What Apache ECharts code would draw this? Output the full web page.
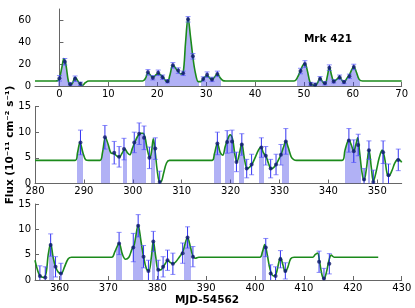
<!DOCTYPE html>
<html><head><meta charset="utf-8">
<script src="https://cdn.jsdelivr.net/npm/echarts@6/dist/echarts.min.js"></script>
<style>html,body{margin:0;padding:0;background:#fff}#c{width:415px;height:308px}</style>
</head><body><div id="c"></div>
<script>
// ---- Panel 1 (MJD-54562: -5..70) ----
var p1X = [0.0,1.1,2.2,3.2,4.3,18.1,19.1,20.2,21.1,22.1,23.2,24.3,25.3,26.3,27.3,29.4,30.2,31.2,32.3,49.3,50.2,51.4,52.3,53.3,54.3,55.2,56.1,57.3,58.2,59.3,60.2];
var p1Y = [7,22,1.5,6.6,2,12.4,7.5,12,8,4.3,18.8,14,11.5,60.6,27,6.4,10.3,6,11,13.6,20,1.8,1.2,6.6,2.5,16.7,4.2,8,3.6,8.8,17.3];
var p1E = [2.5,3,1.5,2.5,1.5,2.5,2,2.5,2,1.5,2.5,2.5,2,2.5,2.5,2,2.5,2,2.5,2.5,3,1.5,1.5,2,1.5,2.5,1.5,2,1.5,2,2.5];
var p1CurveX = [-5,-0.8,-0.3,0,0.5,0.9,1.3,1.8,2.2,2.7,3.2,3.7,4.3,4.7,5.3,6,17,17.6,18.1,18.6,19.1,19.7,20.2,20.7,21.2,21.7,22.1,22.6,23.2,23.8,24.3,24.8,25.3,25.8,26.3,26.8,27.3,27.8,28.4,28.9,29.4,29.8,30.2,30.7,31.2,31.7,32.3,32.8,33.4,34,48,48.7,49.3,49.8,50.2,50.7,51.2,51.6,52.3,52.8,53.3,53.8,54.3,54.8,55.2,55.7,56.1,56.7,57.3,57.8,58.2,58.8,59.3,59.8,60.2,60.7,61.3,62,70];
var p1CurveY = [4.5,4.5,5,7,17,25,20,5,1,3,8,5,1,0.5,3,4.5,4.5,7,12,10,8,10,11.5,10,8,5,3.5,10,19,16,13,11,12,40,62,45,26,12,4,4,6.5,8.5,9.5,7.5,6,8,11,8,5,4.5,4.5,8,14,19,20.5,14,4,1,0.5,3,7,4,2,9,17,9,4.5,6,8,5,3.5,7,10,15,17.5,13,6,4.5,4.5];
var p1Shade = [[-0.3,4.9],[17.4,28.6],[28.9,33.1],[48.5,61.5]];
var p1XTicks = [0,10,20,30,40,50,60,70];
var p1YTicks = [0,20,40,60];

// ---- Panel 2 (280..355) ----
var p2X = [289.3,294.3,296.2,297.2,298.2,300.3,301.3,302.3,303.4,304.6,305.5,317.3,319.3,320.3,321.2,322.3,323.3,324.3,326.3,327.2,328.2,329.3,330.3,331.3,344.2,345.2,346.1,347.3,348.3,349.2,351.2,352.3,354.3];
var p2Y = [8.0,9.0,6.0,5.2,6.7,8.0,9.7,8.9,5.0,6.8,0.3,7.8,8.1,8.2,4.2,7.6,2.9,3.7,7.0,5.4,2.9,3.7,5.6,8.2,8.4,6.3,7.5,0.8,6.5,0.3,6.1,1.6,4.6];
var p2E = [2.4,2.3,2.2,2.0,2.1,2.0,2.1,2.3,2.1,2.1,2.1,2.2,2.2,2.2,1.9,2.1,1.8,2.0,1.9,1.8,1.8,2.0,2.0,2.5,2.3,2.2,2.1,2.1,1.8,2.3,2.2,2.2,2.1];
var p2CurveX = [280,288.2,288.7,289.2,289.8,290.4,291,293.3,293.8,294.4,295,295.5,296.2,296.8,297.3,297.8,298.4,298.9,299.4,299.9,300.4,301,301.6,302.1,302.5,303,303.5,303.8,304.2,304.6,305,305.5,305.9,306.3,306.9,307.5,316.2,316.7,317.3,317.9,318.4,318.9,319.4,319.9,320.4,320.9,321.3,321.8,322.3,322.8,323.4,323.9,324.4,325,325.7,326.2,326.7,327.3,327.8,328.3,328.8,329.3,329.8,330.3,330.8,331.3,331.8,332.4,333,333.5,342.8,343.4,344.2,344.7,345.2,345.6,346,346.4,346.9,347.3,347.8,348.3,348.8,349.2,349.7,350.4,351,351.5,352,352.4,353,353.6,354.2,354.7,355];
var p2CurveY = [4.5,4.5,6,8,6,4.6,4.5,4.5,6,9,7.5,6,5.8,5.3,5.2,5.9,6.7,6,5.6,6.8,8,9.2,9.8,9.8,9,6.5,5,6,8.7,6,2.5,0.3,0.5,2,4,4.5,4.5,5.8,7.8,6,5.5,7.2,8.6,9.5,8.7,5.5,4.2,5.8,7.8,5,2.9,3.2,3.8,5,6.5,7.1,6,5.2,3.8,2.9,3.1,3.7,4.6,5.6,7,8.2,7,5.2,4.6,4.5,4.5,6.5,8.5,7.5,6.3,7.5,8.9,6,2,0.6,3,6.6,3,0.4,2,5,6.5,5,2,1.5,2.5,4,4.7,4.5,4.1];
var p2Shade = [[288.5,289.9],[293.5,295.3],[297.9,298.9],[299.8,302.8],[303.7,304.5],[316.6,318.0],[318.8,320.7],[321.8,322.7],[325.8,326.9],[330.6,332.0],[343.4,346.6],[348.1,348.6],[350.9,351.3]];
var p2XTicks = [280,290,300,310,320,330,340,350];
var p2YTicks = [0,5,10,15];

// ---- Panel 3 (355..430) ----
var p3X = [356.0,357.1,358.2,359.2,360.3,372.2,375.1,376.1,377.2,378.2,379.2,380.2,381.2,382.1,383.2,385.2,386.2,387.3,402.2,403.2,404.2,405.2,406.2,413.1,414.1,415.2];
var p3Y = [0.8,0.5,6.9,2.6,1.3,7.2,6.4,10.7,4.6,1.8,7.6,2.0,2.6,3.9,3.2,5.3,8.4,4.6,6.4,1.3,0.8,4.1,1.8,3.6,0.3,3.2];
var p3E = [2.0,2.1,2.2,2.0,2.0,2.2,2.8,2.2,2.2,2.1,2.0,1.9,2.0,2.0,2.1,2.0,2.1,2.0,1.8,1.7,1.8,1.7,1.6,2.1,2.0,2.0];
var p3CurveX = [355,355.5,356,356.8,357.3,357.7,358.2,358.7,359.2,359.8,360.4,361,361.8,362.5,370.7,371.3,372.2,372.9,373.5,374.2,374.8,375.3,376.1,376.7,377.2,377.8,378.3,378.8,379.2,379.7,380.2,380.7,381.2,381.7,382.1,382.6,383.2,383.8,384.5,385.2,386.2,386.8,387.3,387.8,388.5,401,401.5,402,402.5,403.1,403.8,404.3,404.8,405.2,405.7,406.2,406.7,407.3,408,411.8,412.3,412.8,413.2,413.7,414.1,414.6,415.1,415.6,416.2,425.2];
var p3CurveY = [3.9,2,0.9,0.5,1.5,5,7.2,4.5,2.6,1.5,1.3,2.5,4.2,4.5,4.5,5.5,7.2,5,4.1,4.5,6,7,10.8,7.5,4.6,2.2,1.8,4.5,7.7,4.5,2,2,2.6,3.3,3.9,3.5,3.2,3.6,4.5,5.5,8.4,6.5,4.7,4.3,4.5,4.5,5.5,7,5,2,0.8,1.2,3.2,4.5,3,1.6,2.5,4.2,4.5,4.5,5,5.3,3.6,1,0.2,1.5,3.8,4.9,4.5,4.5];
var p3Shade = [[357.9,358.8],[371.6,372.7],[375.0,377.0],[378.9,379.6],[385.5,386.9],[401.5,402.2]];
var p3XTicks = [360,370,380,390,400,410,420,430];
var p3YTicks = [0,5,10,15];

var FONT = 'DejaVu Sans';
var AXC = '#666';
var panels = [
  {x:p1X,y:p1Y,e:p1E,cx:p1CurveX,cy:p1CurveY,sh:p1Shade,xt:p1XTicks,yt:p1YTicks,xmin:-5,xmax:70,ymax:70,top:9,h:77},
  {x:p2X,y:p2Y,e:p2E,cx:p2CurveX,cy:p2CurveY,sh:p2Shade,xt:p2XTicks,yt:p2YTicks,xmin:280,xmax:355,ymax:15,top:106.5,h:77},
  {x:p3X,y:p3Y,e:p3E,cx:p3CurveX,cy:p3CurveY,sh:p3Shade,xt:p3XTicks,yt:p3YTicks,xmin:355,xmax:430,ymax:15,top:204,h:76}
];

var grids=[],xAxes=[],yAxes=[],series=[],vms=[];
panels.forEach(function(p,i){
  grids.push({left:35,width:366.7,top:p.top,height:p.h,containLabel:false,outerBoundsMode:'none'});
  xAxes.push({type:'value',gridIndex:i,min:p.xmin,max:p.xmax,
    axisLine:{lineStyle:{color:AXC,width:1}},
    axisTick:{inside:true,length:4,customValues:p.xt,lineStyle:{color:AXC}},
    axisLabel:{customValues:p.xt,margin:3,color:'#000',fontSize:10,fontFamily:FONT},
    splitLine:{show:false}});
  yAxes.push({type:'value',gridIndex:i,min:0,max:p.ymax,
    axisLine:{show:true,lineStyle:{color:AXC,width:1}},
    axisTick:{show:true,inside:true,length:4,customValues:p.yt,lineStyle:{color:AXC}},
    axisLabel:{customValues:p.yt,margin:4,color:'#000',fontSize:10,fontFamily:FONT},
    splitLine:{show:false}});
  var curve = p.cx.map(function(v,k){return [v,p.cy[k]];});
  var pts = p.x.map(function(v,k){return [v,p.y[k],p.e[k]];});
  var base = series.length;
  series.push({type:'line',xAxisIndex:i,yAxisIndex:i,data:curve,smooth:0.35,symbol:'none',
    lineStyle:{width:0},areaStyle:{opacity:1},silent:true,z:1});
  series.push({type:'line',xAxisIndex:i,yAxisIndex:i,data:curve,smooth:0.35,symbol:'none',
    lineStyle:{width:1.6,color:'#1b8a1b'},itemStyle:{color:'#1b8a1b'},silent:true,z:3});
  series.push({type:'custom',xAxisIndex:i,yAxisIndex:i,data:pts,clip:true,z:4,
    renderItem:function(params,api){
      var x=api.value(0),y=api.value(1),e=api.value(2);
      var t=api.coord([x,y+e]),b=api.coord([x,y-e]);
      var cw=2.5;
      return {type:'group',children:[
        {type:'line',shape:{x1:t[0],y1:t[1],x2:b[0],y2:b[1]},style:{stroke:'rgba(30,30,240,0.9)',lineWidth:1}},
        {type:'line',shape:{x1:t[0]-cw,y1:t[1],x2:t[0]+cw,y2:t[1]},style:{stroke:'rgba(80,80,250,0.65)',lineWidth:1}},
        {type:'line',shape:{x1:b[0]-cw,y1:b[1],x2:b[0]+cw,y2:b[1]},style:{stroke:'rgba(80,80,250,0.65)',lineWidth:1}}
      ]};
    }});
  series.push({type:'scatter',xAxisIndex:i,yAxisIndex:i,data:pts,symbolSize:4,
    itemStyle:{color:'#101c6e'},z:5,silent:true});
  vms.push({type:'piecewise',show:false,seriesIndex:base,dimension:0,
    pieces:p.sh.map(function(s){return {gte:s[0],lte:s[1],color:'rgba(60,60,230,0.4)'};}),
    outOfRange:{color:'rgba(255,255,255,0)'}});
});

var chart = echarts.init(document.getElementById('c'),null,{renderer:'canvas'});
chart.setOption({
  animation:false,
  grid:grids,xAxis:xAxes,yAxis:yAxes,series:series,visualMap:vms,
  graphic:[
    {type:'text',x:328,y:39,style:{text:'Mrk 421',fontFamily:FONT,fontWeight:'bold',fontSize:10.5,fill:'#000',align:'center',verticalAlign:'middle'}},
    {type:'text',x:207,y:300,style:{text:'MJD-54562',fontFamily:FONT,fontWeight:'bold',fontSize:10.5,fill:'#000',align:'center',verticalAlign:'middle'}},
    {type:'text',x:10,y:145,rotation:Math.PI/2,style:{text:'Flux (10\u207B\u00B9\u00B9 cm\u207B\u00B2 s\u207B\u00B9)',fontFamily:FONT,fontWeight:'bold',fontSize:10.5,fill:'#000',align:'center',verticalAlign:'middle'}}
  ]
});
</script></body></html>
